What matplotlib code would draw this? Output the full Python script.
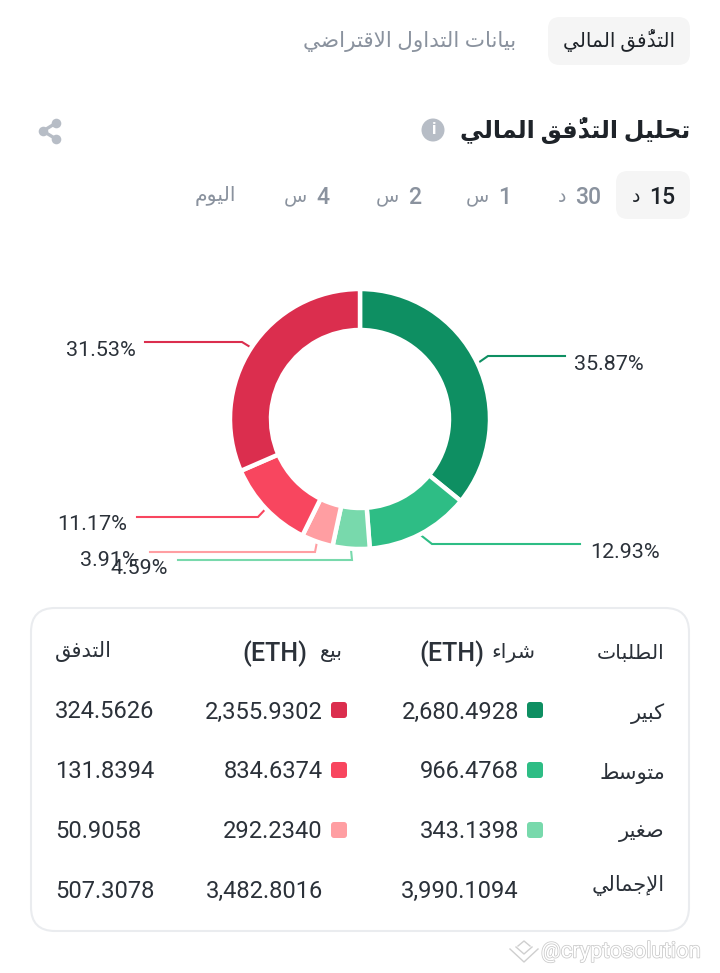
import numpy as np
import matplotlib
matplotlib.use("Agg")
import matplotlib.pyplot as plt
from matplotlib.patches import FancyBboxPatch, Circle
import matplotlib.patheffects as pe

# ---------- data ----------
shares = [35.87, 12.93, 4.59, 3.91, 11.17, 31.53]
share_labels = ["35.87%", "12.93%", "4.59%", "3.91%", "11.17%", "31.53%"]
row_names = ["كبير", "متوسط", "صغير", "الإجمالي"]
buy_values = ["2,680.4928", "966.4768", "343.1398", "3,990.1094"]
sell_values = ["2,355.9302", "834.6374", "292.2340", "3,482.8016"]
flow_values = ["324.5626", "131.8394", "50.9058", "507.3078"]
tabs = ["التدفُّق المالي", "بيانات التداول الاقتراضي"]
title = "تحليل التدفُّق المالي"
periods = ["15 د", "30 د", "1 س", "2 س", "4 س", "اليوم"]
headers = ["الطلبات", "شراء", "بيع", "التدفق"]

# ---------- style ----------
W, H = 720, 973
slice_colors = ["#0E8F62", "#2EBD85", "#78D9AC", "#FF9EA2", "#F8465F", "#DB2E4E"]
INK, GREY, ICON = "#1E2329", "#8A929E", "#B7BDC6"
FONT = ["Roboto", "DejaVu Sans"]
plt.rcParams["font.family"] = FONT

# Arabic glyph shaping (matplotlib draws glyphs left to right, unshaped)
FORMS = {"ء": (0xFE80, 1), "أ": (0xFE83, 2), "إ": (0xFE87, 2), "ا": (0xFE8D, 2), "ب": (0xFE8F, 4),
         "ت": (0xFE95, 4), "ج": (0xFE9D, 4), "ح": (0xFEA1, 4), "د": (0xFEA9, 2), "ر": (0xFEAD, 2),
         "س": (0xFEB1, 4), "ش": (0xFEB5, 4), "ص": (0xFEB9, 4), "ض": (0xFEBD, 4), "ط": (0xFEC1, 4),
         "ع": (0xFEC9, 4), "غ": (0xFECD, 4), "ف": (0xFED1, 4), "ق": (0xFED5, 4), "ك": (0xFED9, 4),
         "ل": (0xFEDD, 4), "م": (0xFEE1, 4), "ن": (0xFEE5, 4), "و": (0xFEED, 2), "ي": (0xFEF1, 4)}
MARKS = "\u064f\u0651"
LIG = {"ا": 0xFEFB, "إ": 0xFEF9, "أ": 0xFEF7}


def shape_word(word):
    clusters = []
    for ch in word:
        if ch in MARKS and clusters:
            clusters[-1][1] += ch
        elif clusters and clusters[-1][0] == "ل" and ch in LIG:
            clusters[-1][0] = "ل" + ch
        else:
            clusters.append([ch, ""])
    out = []
    for i, (ch, mk) in enumerate(clusters):
        prev_joins = i > 0 and FORMS.get(clusters[i - 1][0][-1], (0, 1))[1] == 4 and len(clusters[i - 1][0]) == 1
        next_joins = i + 1 < len(clusters) and clusters[i + 1][0][0] in FORMS and FORMS[clusters[i + 1][0][0]][1] >= 2
        if len(ch) == 2:
            g = chr(LIG[ch[1]] + (1 if prev_joins else 0))
        elif ch in FORMS:
            base, n = FORMS[ch]
            if n == 4 and prev_joins and next_joins:
                g = chr(base + 3)
            elif n == 4 and next_joins:
                g = chr(base + 2)
            elif n >= 2 and prev_joins:
                g = chr(base + 1)
            else:
                g = chr(base)
        else:
            g = ch
        out.append(g + mk)
    return "".join(reversed(out))


def rtl(text):
    words = [shape_word(w) if any("\u0600" <= c <= "\u06ff" for c in w) else w for w in text.split(" ")]
    return " ".join(reversed(words))


def px(size):
    return size * 0.72


fig = plt.figure(figsize=(W / 100, H / 100), dpi=100, facecolor="white")
ax = fig.add_axes([0, 0, 1, 1])
ax.set_xlim(0, W)
ax.set_ylim(H, 0)
ax.axis("off")


def T(x, y, s, size, color=INK, ha="center", weight="normal", **kw):
    return ax.text(x, y, s, fontsize=px(size), color=color, ha=ha, va="center", fontweight=weight, **kw)


def pill(x0, y0, x1, y1, r, fc="#F5F5F5", ec="none", lw=0):
    ax.add_patch(FancyBboxPatch((x0 + r, y0 + r), x1 - x0 - 2 * r, y1 - y0 - 2 * r,
                                boxstyle=f"round,pad={r},rounding_size={r}", fc=fc, ec=ec, lw=lw))


# tabs
pill(548, 17, 690, 65, 12)
T(619, 41, rtl(tabs[0]), 20)
T(516, 42, rtl(tabs[1]), 21.5, GREY, ha="right")

# title row
T(690, 130, rtl(title), 23.8, ha="right", weight="bold")
ax.add_patch(Circle((433, 130), 11.5, fc=ICON, ec="none"))
T(433, 130, "i", 17, "white", weight="bold")
sx, sy = [56, 43, 56], [123, 131, 139]
ax.plot(sx, sy, color=ICON, lw=2.4, zorder=2)
ax.scatter(sx, sy, s=48, color=ICON, zorder=3, linewidths=0)

# period selector
pill(616, 171, 690, 219, 12)
period_x = [645, 571, 494, 404, 312, 215]
for i, (p, x) in enumerate(zip(periods, period_x)):
    col = INK if i == 0 else GREY
    parts = p.split(" ")
    if len(parts) == 2:
        T(x + 4, 197, parts[0], 23, col, ha="left", weight="medium")
        T(x - 5, 197, rtl(parts[1]), 19, col, ha="right")
    else:
        T(x, 196, rtl(p), 20.5, col)

# donut
CX, CY, R = 360, 419, 130
pie_ax = fig.add_axes([(CX - R - 1) / W, 1 - (CY + R + 1) / H, (2 * R + 2) / W, (2 * R + 2) / H])
pie_ax.pie(shares, colors=slice_colors, startangle=90, counterclock=False, radius=R / (R + 1),
           wedgeprops=dict(width=41 / (R + 1), edgecolor="white", linewidth=3.2))
pie_ax.set_xlim(-1, 1)
pie_ax.set_ylim(-1, 1)

# leader lines: start at each slice's mid-angle
mids = (np.cumsum(shares) - np.array(shares) / 2) / sum(shares) * 2 * np.pi
elbows = [(488, 356, 565), (432, 544, 580), (352, 560, 178), (315, 552, 150), (258, 517, 137), (242, 342, 145)]
label_pos = [(574, 365, "left"), (590, 552, "left"), (168, 568, "right"), (138, 561, "right"),
             (127, 524, "right"), (136, 350, "right")]
for m, el, lab, txt, c in zip(mids, elbows, label_pos, share_labels, slice_colors):
    x0, y0 = CX + 131 * np.sin(m), CY - 131 * np.cos(m)
    ax.plot([x0, el[0], el[2]], [y0, el[1], el[1]], color=c, lw=1.5, solid_joinstyle="miter")
    T(lab[0], lab[1], txt, 21.5, "#2B3139", ha=lab[2])

# table
pill(31, 608, 689, 931, 24, fc="white", ec="#EAECEF", lw=1.5)
T(665, 654, rtl(headers[0]), 20.5, "#2B3139", ha="right")
T(535, 652, rtl(headers[1]), 20.5, "#2B3139", ha="right")
T(484, 654, "(ETH)", 25, "#2B3139", ha="right", weight="medium")
T(343, 652, rtl(headers[2]), 20.5, "#2B3139", ha="right")
T(307, 654, "(ETH)", 25, "#2B3139", ha="right", weight="medium")
T(55, 651, rtl(headers[3]), 21, "#2B3139", ha="left")

row_y = [711, 771, 831, 890]
label_y = [713, 772, 832, 885]
for i, y in enumerate(row_y):
    T(665, label_y[i] + 1, rtl(row_names[i]), 21, "#2B3139", ha="right")
    T(519, y + 1, buy_values[i], 23.8, "#2B3139", ha="right")
    T(323, y + 1, sell_values[i], 23.8, "#2B3139", ha="right")
    T(55, y + 1, flow_values[i], 23.8, "#2B3139", ha="left")
    if i < 3:
        pill(527, y - 9, 543, y + 7, 3, fc=slice_colors[i])
        pill(331, y - 9, 347, y + 7, 3, fc=slice_colors[5 - i])

# watermark
T(541, 952, "@cryptosolution", 22, "white", ha="left",
  path_effects=[pe.withStroke(linewidth=1.1, foreground="#C9C9C9")])
ax.plot([510, 524, 538], [949, 962, 949], color="#CFCFCF", lw=1)
ax.plot([516, 524, 532], [947, 954, 947], color="#CFCFCF", lw=1)
ax.plot([518, 524, 530], [946, 941, 946], color="#CFCFCF", lw=1)

fig.savefig("out.png", dpi=100, facecolor="white")
